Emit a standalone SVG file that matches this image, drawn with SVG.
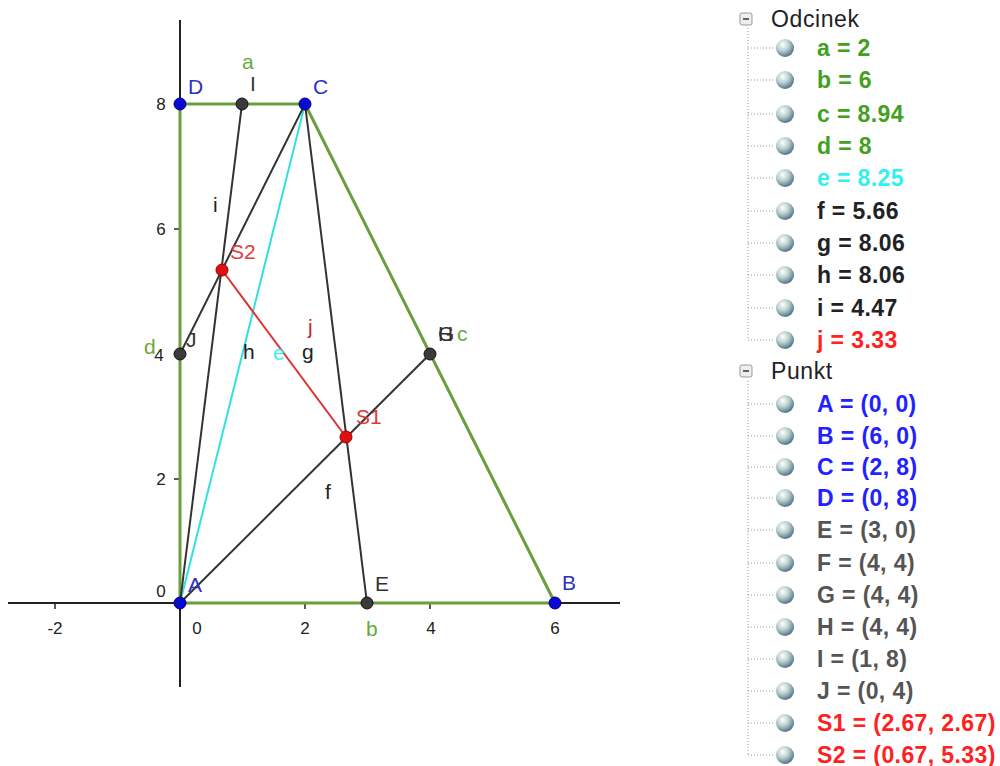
<svg xmlns="http://www.w3.org/2000/svg" width="1000" height="766" viewBox="0 0 1000 766">
<defs>
<radialGradient id="ball" cx="0.38" cy="0.32" r="0.75">
<stop offset="0" stop-color="#ffffff"/>
<stop offset="0.45" stop-color="#b9cfcf"/>
<stop offset="1" stop-color="#3f6478"/>
</radialGradient>
<style>
text{font-family:"Liberation Sans",Arial,sans-serif}
.ax{stroke:#222;stroke-width:2;fill:none}
.tk{font-size:17px;fill:#222;text-anchor:middle}
.green{stroke:#6b9e3c;stroke-width:3;fill:none}
.blk{stroke:#333;stroke-width:2;fill:none}
.cyan{stroke:#33e0e0;stroke-width:2;fill:none}
.red{stroke:#e03030;stroke-width:2;fill:none}
.lb{font-size:21px}
.ptb{fill:#0a0ad0;stroke:#00007a;stroke-width:1}
.ptk{fill:#3a3a3a;stroke:#111;stroke-width:1}
.ptr{fill:#e01010;stroke:#900;stroke-width:1}
.li{font-size:23px;font-weight:bold;letter-spacing:0.4px}
.hd{font-size:23px;fill:#222;letter-spacing:0.6px}
.dot{stroke:#999;stroke-width:1;stroke-dasharray:1 2;fill:none}
.gT{fill:#44a020}.bT{fill:#2222ff}.kT{fill:#222}.sT{fill:#555}.rT{fill:#ff2020}.cT{fill:#33f0f0}
</style>
</defs>
<rect width="1000" height="766" fill="#fff"/>
<g id="axes">
<line class="ax" x1="8" y1="603" x2="620" y2="603"/>
<line class="ax" x1="180" y1="20" x2="180" y2="687"/>
<g stroke="#222" stroke-width="1.5">
<line x1="55" y1="603" x2="55" y2="609"/>
<line x1="305" y1="603" x2="305" y2="609"/>
<line x1="430" y1="603" x2="430" y2="609"/>
<line x1="555" y1="603" x2="555" y2="609"/>
<line x1="174" y1="479" x2="180" y2="479"/>
<line x1="174" y1="354" x2="180" y2="354"/>
<line x1="174" y1="229" x2="180" y2="229"/>
<line x1="174" y1="104" x2="180" y2="104"/>
</g>
<text class="tk" x="55" y="634">-2</text>
<text class="tk" x="197" y="634">0</text>
<text class="tk" x="305" y="634">2</text>
<text class="tk" x="431" y="634">4</text>
<text class="tk" x="555" y="634">6</text>
<text class="tk" x="161" y="597">0</text>
<text class="tk" x="161" y="485">2</text>
<text class="tk" x="159" y="361">4</text>
<text class="tk" x="161" y="235">6</text>
<text class="tk" x="161" y="110">8</text>
</g>
<g id="connectors">
<line id="a" class="green" x1="180" y1="104" x2="305" y2="104"/>
<line id="b" class="green" x1="180" y1="603" x2="555" y2="603"/>
<line id="c" class="green" x1="305" y1="104" x2="555" y2="603"/>
<line id="d" class="green" x1="180" y1="603" x2="180" y2="104"/>
<line id="e" class="cyan" x1="180" y1="603" x2="305" y2="104"/>
<line id="f" class="blk" x1="180" y1="603" x2="430" y2="354"/>
<line id="g" class="blk" x1="305" y1="104" x2="367" y2="603"/>
<line id="h" class="blk" x1="180" y1="603" x2="242" y2="104"/>
<line id="i" class="blk" x1="305" y1="104" x2="180" y2="354"/>
<line id="j" class="red" x1="346" y1="437" x2="222" y2="270"/>
</g>
<g id="seg-labels" class="lb">
<text x="242" y="69" class="gT" style="fill:#6aa83a">a</text>
<text x="366" y="636" class="gT" style="fill:#6aa83a">b</text>
<text x="457" y="341" class="gT" style="fill:#6aa83a">c</text>
<text x="144" y="354" class="gT" style="fill:#6aa83a">d</text>
<text x="273" y="360" class="cT">e</text>
<text x="325" y="499" class="kT">f</text>
<text x="302" y="359" class="kT">g</text>
<text x="243" y="359" class="kT">h</text>
<text x="213" y="212" class="kT">i</text>
<text x="308" y="334" class="rT" style="fill:#d02030">j</text>
</g>
<g id="A"><circle class="ptb" cx="180" cy="603" r="6"/><text class="lb" x="188" y="592" style="fill:#3030c0">A</text></g>
<g id="B"><circle class="ptb" cx="555" cy="603" r="6"/><text class="lb" x="562" y="590" style="fill:#3030c0">B</text></g>
<g id="C"><circle class="ptb" cx="305" cy="104" r="6"/><text class="lb" x="313" y="94" style="fill:#3030c0">C</text></g>
<g id="D"><circle class="ptb" cx="180" cy="104" r="6"/><text class="lb" x="188" y="94" style="fill:#3030c0">D</text></g>
<g id="E"><circle class="ptk" cx="367" cy="603" r="6"/><text class="lb" x="375" y="591" style="fill:#333">E</text></g>
<g id="F"><circle class="ptk" cx="430" cy="354" r="6"/><text class="lb" x="438" y="341" style="fill:#333">H</text><text class="lb" x="438" y="341" style="fill:#333">G</text></g>
<g id="I"><circle class="ptk" cx="242" cy="104" r="6"/><text class="lb" x="250" y="91" style="fill:#333">I</text></g>
<g id="J"><circle class="ptk" cx="180" cy="354" r="6"/><text class="lb" x="186" y="347" style="fill:#333">J</text></g>
<g id="S1"><circle class="ptr" cx="346" cy="437" r="6"/><text class="lb" x="356" y="424" style="fill:#e03a3a">S1</text></g>
<g id="S2"><circle class="ptr" cx="222" cy="270" r="6"/><text class="lb" x="230" y="259" style="fill:#e03a3a">S2</text></g>
<g id="panel">
<g class="dot">
<line x1="748" y1="28" x2="748" y2="340"/>
<line x1="748" y1="381" x2="748" y2="755"/>
<path d="M748 48H775M748 80H775M748 114H775M748 146H775M748 178H775M748 211H775M748 243H775M748 275H775M748 308H775M748 340H775"/>
<path d="M748 404H775M748 436H775M748 467H775M748 498H775M748 530H775M748 563H775M748 595H775M748 627H775M748 659H775M748 691H775M748 723H775M748 755H775"/>
</g>
<g id="hd1"><rect x="740" y="13" width="12" height="12" rx="2" fill="#eee" stroke="#999"/><line x1="743" y1="19" x2="749" y2="19" stroke="#333" stroke-width="1.5"/><text class="hd" x="771" y="27">Odcinek</text></g>
<g id="hd2"><rect x="740" y="365" width="12" height="12" rx="2" fill="#eee" stroke="#999"/><line x1="743" y1="371" x2="749" y2="371" stroke="#333" stroke-width="1.5"/><text class="hd" x="771" y="379">Punkt</text></g>
<g fill="url(#ball)">
<circle cx="785" cy="48" r="9"/><circle cx="785" cy="80" r="9"/><circle cx="785" cy="114" r="9"/><circle cx="785" cy="146" r="9"/><circle cx="785" cy="178" r="9"/><circle cx="785" cy="211" r="9"/><circle cx="785" cy="243" r="9"/><circle cx="785" cy="275" r="9"/><circle cx="785" cy="308" r="9"/><circle cx="785" cy="340" r="9"/>
<circle cx="785" cy="404" r="9"/><circle cx="785" cy="436" r="9"/><circle cx="785" cy="467" r="9"/><circle cx="785" cy="498" r="9"/><circle cx="785" cy="530" r="9"/><circle cx="785" cy="563" r="9"/><circle cx="785" cy="595" r="9"/><circle cx="785" cy="627" r="9"/><circle cx="785" cy="659" r="9"/><circle cx="785" cy="691" r="9"/><circle cx="785" cy="723" r="9"/><circle cx="785" cy="755" r="9"/>
</g>
<g class="li">
<text x="817" y="56" class="gT">a = 2</text>
<text x="817" y="88" class="gT">b = 6</text>
<text x="817" y="122" class="gT">c = 8.94</text>
<text x="817" y="154" class="gT">d = 8</text>
<text x="817" y="186" class="cT">e = 8.25</text>
<text x="817" y="219" class="kT">f = 5.66</text>
<text x="817" y="251" class="kT">g = 8.06</text>
<text x="817" y="283" class="kT">h = 8.06</text>
<text x="817" y="316" class="kT">i = 4.47</text>
<text x="817" y="348" class="rT">j = 3.33</text>
<text x="817" y="412" class="bT">A = (0, 0)</text>
<text x="817" y="444" class="bT">B = (6, 0)</text>
<text x="817" y="475" class="bT">C = (2, 8)</text>
<text x="817" y="506" class="bT">D = (0, 8)</text>
<text x="817" y="538" class="sT">E = (3, 0)</text>
<text x="817" y="571" class="sT">F = (4, 4)</text>
<text x="817" y="603" class="sT">G = (4, 4)</text>
<text x="817" y="635" class="sT">H = (4, 4)</text>
<text x="817" y="667" class="sT">I = (1, 8)</text>
<text x="817" y="699" class="sT">J = (0, 4)</text>
<text x="817" y="731" class="rT">S1 = (2.67, 2.67)</text>
<text x="817" y="763" class="rT">S2 = (0.67, 5.33)</text>
</g>
</g>
</svg>
